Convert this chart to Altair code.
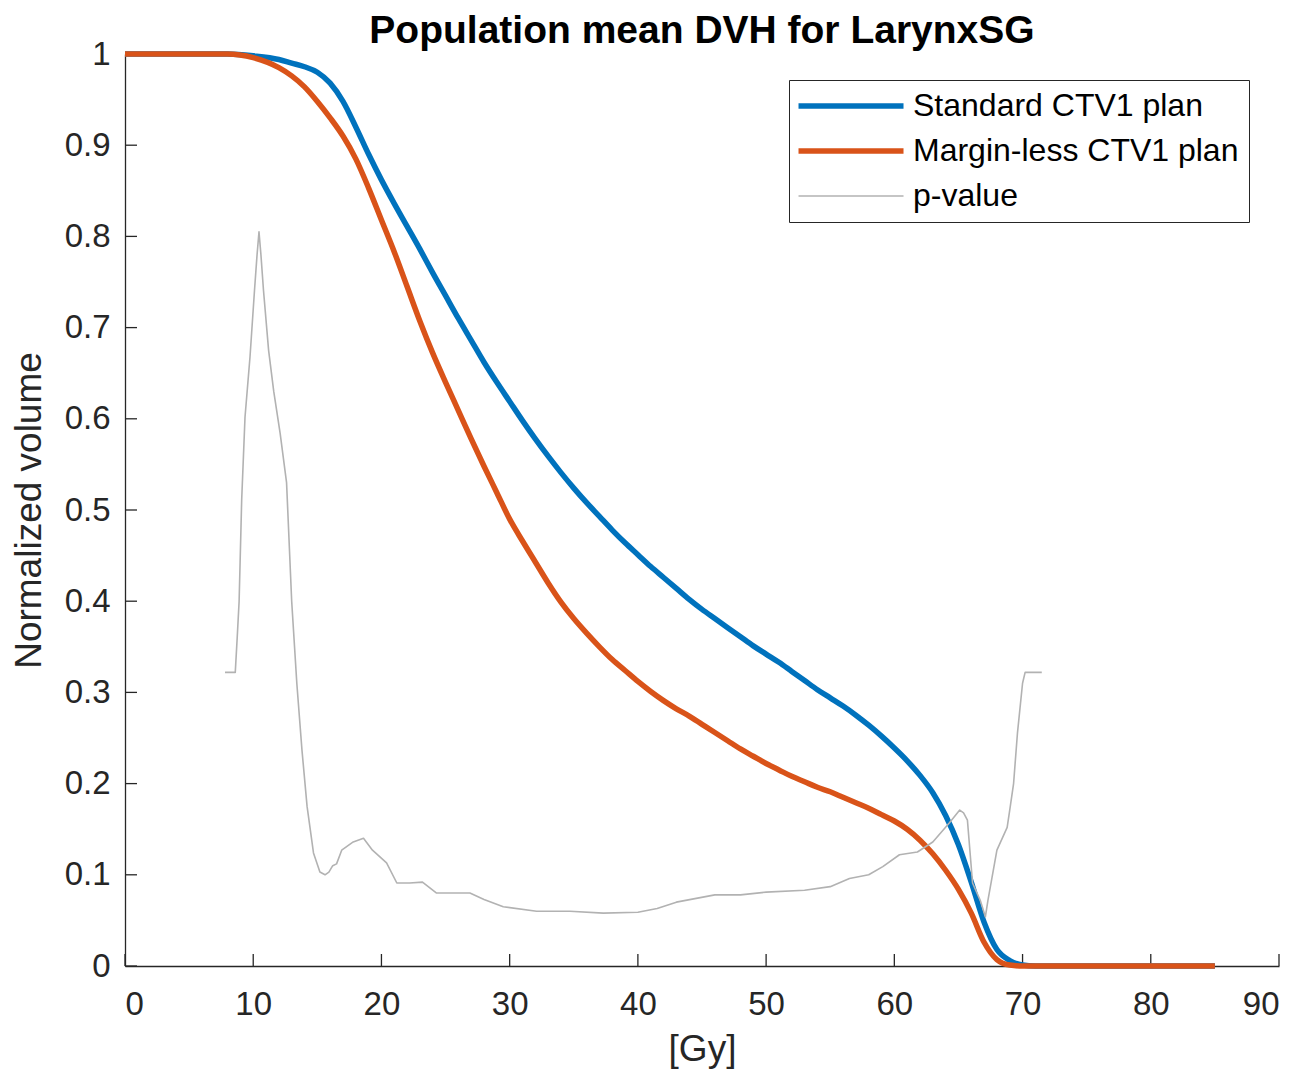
import altair as alt
import pandas as pd

# ---- data ----
std_dose = [0, 5, 8, 10, 12, 13, 14, 15, 16, 17, 18, 19, 20, 21, 22, 23, 24, 25, 26, 27, 28, 29, 30,
            31, 32, 33, 34, 35, 36, 37, 38, 39, 40, 41, 42, 43, 44, 45, 46, 47, 48, 49, 50,
            51, 52, 53, 54, 55, 56, 57, 58, 59, 60, 61, 62, 63, 64, 65, 66, 67, 68, 69, 70, 71, 85]
std_vol = [1.0, 1.0, 1.0, 0.998, 0.994, 0.990, 0.986, 0.980, 0.968, 0.948, 0.920, 0.890, 0.862,
           0.836, 0.811, 0.786, 0.760, 0.735, 0.710, 0.686, 0.662, 0.640, 0.619,
           0.598, 0.578, 0.559, 0.541, 0.524, 0.508, 0.493, 0.478, 0.464, 0.451,
           0.438, 0.426, 0.414, 0.402, 0.391, 0.381, 0.371, 0.361, 0.351, 0.342,
           0.333, 0.323, 0.313, 0.303, 0.294, 0.285, 0.275, 0.264, 0.252, 0.239,
           0.225, 0.209, 0.190, 0.165, 0.133, 0.092, 0.048, 0.018, 0.006, 0.001, 0.0, 0.0]

ml_dose = [0, 5, 8, 10, 12, 13, 14, 15, 16, 17, 18, 19, 20, 21, 22, 23, 24, 25, 26, 27, 28, 29, 30,
           31, 32, 33, 34, 35, 36, 37, 38, 39, 40, 41, 42, 43, 44, 45, 46, 47, 48, 49, 50,
           51, 52, 53, 54, 55, 56, 57, 58, 59, 60, 61, 62, 63, 64, 65, 66, 67, 68, 69, 70, 85]
ml_vol = [1.0, 1.0, 1.0, 0.996, 0.985, 0.976, 0.964, 0.948, 0.930, 0.910, 0.885, 0.853, 0.818,
          0.783, 0.745, 0.707, 0.672, 0.640, 0.609, 0.578, 0.548, 0.519, 0.490,
          0.466, 0.443, 0.420, 0.399, 0.381, 0.365, 0.350, 0.336, 0.324, 0.312,
          0.301, 0.291, 0.282, 0.274, 0.265, 0.256, 0.247, 0.238, 0.230, 0.222,
          0.215, 0.208, 0.202, 0.196, 0.191, 0.185, 0.179, 0.173, 0.166, 0.159,
          0.150, 0.138, 0.123, 0.105, 0.084, 0.058, 0.026, 0.007, 0.001, 0.0, 0.0]

p_dose = [7.8, 8.6, 8.75, 8.9, 9.1, 9.36, 9.75, 10.1, 10.3, 10.45, 10.6, 10.8, 11.2, 11.6, 12.1,
          12.6, 13.0, 13.4, 13.8, 14.2, 14.7, 15.2, 15.6, 15.9, 16.2, 16.5, 16.9, 17.8, 18.6,
          19.3, 20.4, 21.2, 22.2, 23.2, 24.3, 26.9, 28.0, 29.5, 32.1, 34.7, 37.3, 40.0, 41.5,
          43.0, 46.0, 48.0, 50.0, 53.0, 55.0, 56.5, 58.0, 59.1, 60.4, 61.8, 63.0, 64.3, 65.1,
          65.4, 65.7, 66.1, 66.7, 67.1, 67.3, 68.0, 68.8, 69.0, 69.3, 69.6, 70.0, 70.2, 71.5]
p_val = [0.322, 0.322, 0.36, 0.40, 0.511, 0.602, 0.668, 0.741, 0.78, 0.805, 0.78, 0.741, 0.675,
         0.63, 0.584, 0.53, 0.40, 0.31, 0.237, 0.175, 0.124, 0.103, 0.100, 0.103, 0.11, 0.112,
         0.127, 0.136, 0.140, 0.127, 0.113, 0.091, 0.091, 0.092, 0.080, 0.080, 0.073, 0.065,
         0.060, 0.060, 0.058, 0.059, 0.063, 0.070, 0.078, 0.078, 0.081, 0.083, 0.087, 0.096,
         0.100, 0.109, 0.122, 0.125, 0.136, 0.157, 0.171, 0.168, 0.160, 0.091, 0.072, 0.054,
         0.072, 0.127, 0.152, 0.171, 0.20, 0.255, 0.31, 0.322, 0.322]

series_names = ["Standard CTV1 plan", "Margin-less CTV1 plan", "p-value"]
series_colors = ["#0072BD", "#D95319", "#B2B2B2"]
series_widths = [5.5, 5.5, 1.6]
series_interp = ["monotone", "monotone", "linear"]

x_ticks = [0, 10, 20, 30, 40, 50, 60, 70, 80, 90]
y_ticks = [0, 0.1, 0.2, 0.3, 0.4, 0.5, 0.6, 0.7, 0.8, 0.9, 1.0]

rows = []
for name, xs, ys in zip(series_names, [std_dose, ml_dose, p_dose], [std_vol, ml_vol, p_val]):
    for i, (a, b) in enumerate(zip(xs, ys)):
        rows.append({"series": name, "dose": a, "vol": b, "ord": i})
df = pd.DataFrame(rows)

W, H = 1154, 912
AXC = "#262626"
FONT = "Liberation Sans"

xscale = alt.Scale(domain=[0, 90], nice=False, zero=False)
yscale = alt.Scale(domain=[0, 1], nice=False)

color = alt.Color("series:N", title=None,
                  scale=alt.Scale(domain=series_names, range=series_colors),
                  legend=alt.Legend(orient="none", legendX=664, legendY=26,
                                    symbolType="M-1.57,0H8.43", symbolSize=441,
                                    labelFontSize=32, labelFont=FONT, labelColor="black",
                                    labelLimit=500, labelOffset=82,
                                    padding=10, rowPadding=13,
                                    strokeColor=AXC, fillColor="white"))
swidth = alt.StrokeWidth("series:N", title=None,
                         scale=alt.Scale(type="ordinal", domain=series_names, range=series_widths))

enc = dict(
    x=alt.X("dose:Q", scale=xscale,
            axis=alt.Axis(values=x_ticks, title="[Gy]", grid=False, ticks=False,
                          labelPadding=22, titlePadding=10)),
    y=alt.Y("vol:Q", scale=yscale,
            axis=alt.Axis(values=y_ticks, format="~g", title="Normalized volume", grid=False,
                          ticks=False, labelPadding=15, titlePadding=16)),
    color=color,
    strokeWidth=swidth,
    order="ord:Q",
)

layers = [
    alt.Chart(df).transform_filter(alt.datum.series == n)
    .mark_line(strokeCap="butt", strokeJoin="round", interpolate=ip)
    .encode(**enc)
    for n, ip in zip(series_names, series_interp)
]

xt = alt.Chart(pd.DataFrame({"v": x_ticks})).mark_rule(color=AXC, strokeWidth=1.3).encode(
    x=alt.X("v:Q", scale=xscale), y=alt.value(H), y2=alt.value(H - 12))
yt = alt.Chart(pd.DataFrame({"v": y_ticks})).mark_rule(color=AXC, strokeWidth=1.3).encode(
    y=alt.Y("v:Q", scale=yscale), x=alt.value(0), x2=alt.value(12))

chart = alt.layer(xt, yt, *layers).properties(
    width=W, height=H,
    title=alt.TitleParams("Population mean DVH for LarynxSG", fontSize=39, fontWeight="bold",
                          font=FONT, color="black", anchor="middle", offset=-13),
    autosize=alt.AutoSizeParams(type="none"),
    padding={"left": 117, "top": 46, "right": 18, "bottom": 103},
).configure_view(stroke=None).configure_axis(
    domainColor=AXC, domainWidth=1.3, labelColor=AXC, labelFontSize=33, labelFont=FONT,
    titleColor=AXC, titleFontSize=37, titleFont=FONT, titleFontWeight="normal",
)

chart.save("out.html", embed_options={"renderer": "svg", "actions": False})
